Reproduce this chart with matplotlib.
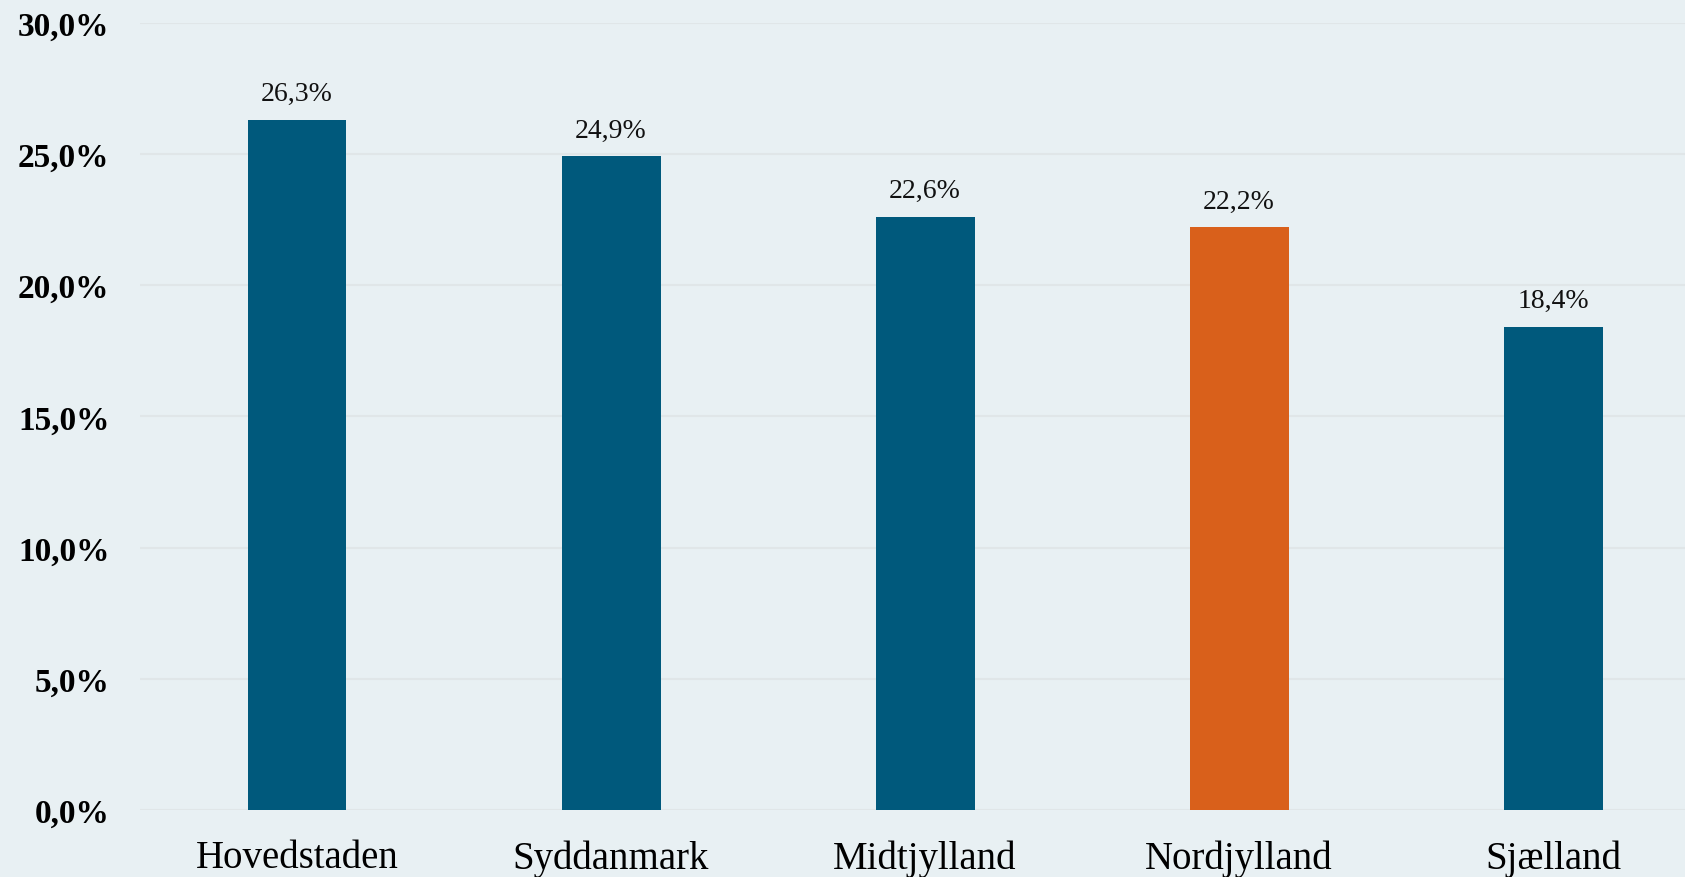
import matplotlib
matplotlib.use("Agg")
import matplotlib.pyplot as plt
from matplotlib.ticker import FuncFormatter

categories = ["Hovedstaden", "Syddanmark", "Midtjylland", "Nordjylland", "Sjælland"]
values = [26.3, 24.9, 22.6, 22.2, 18.4]
highlight = "Nordjylland"
yticks = [0, 5, 10, 15, 20, 25, 30]

bg = "#E8F0F3"
blue = "#00597C"
orange = "#D9601B"
grid = "#E0E6E8"

plt.rcParams['font.family'] = ['Liberation Serif', 'DejaVu Serif']

fig = plt.figure(figsize=(16.85, 8.78), dpi=100, facecolor=bg)
ax = fig.add_axes([0.0831, 0.0763, 0.9169, 0.8968], facecolor=bg)

x = list(range(len(categories)))
colors = [orange if c == highlight else blue for c in categories]
bars = ax.bar(x, values, width=0.315, color=colors, zorder=3)

for xi, v in zip(x, values):
    ax.annotate(f"{v:.1f}%".replace(".", ","), (xi, v), xytext=(0, 10),
                textcoords="offset points", ha="center", va="bottom",
                fontsize=20, color="#111111")

ax.set_ylim(0, 30)
ax.set_xlim(-0.5, 4.42)
ax.set_yticks(yticks)
ax.yaxis.set_major_formatter(FuncFormatter(lambda v, p: f"{v:.1f}%".replace(".", ",")))
ax.set_xticks(x)
ax.set_xticklabels(categories, fontsize=28)
for lab in ax.get_yticklabels():
    lab.set_fontweight("bold")
    lab.set_fontsize(24)
ax.tick_params(axis="y", length=0, pad=22)
ax.tick_params(axis="x", length=0, pad=21)
ax.grid(axis="y", color=grid, linewidth=1.5, zorder=0)
ax.set_axisbelow(True)
for s in ax.spines.values():
    s.set_visible(False)

fig.savefig("out.png", dpi=100, facecolor=bg)
